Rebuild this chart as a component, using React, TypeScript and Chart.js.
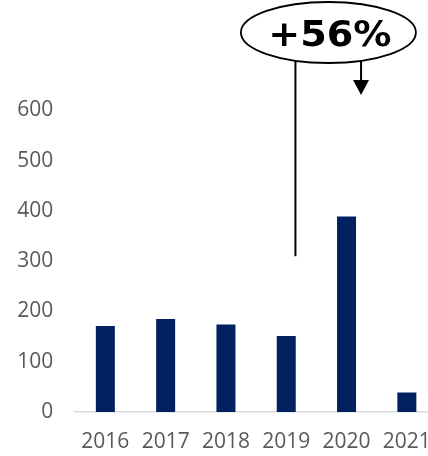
import React, { useEffect, useRef } from "react";
import { Chart, registerables } from "chart.js";

Chart.register(...registerables);

const categories = ["2016", "2017", "2018", "2019", "2020", "2021"];
const values = [171, 185, 174, 151, 389, 39];
const yTicks = [0, 100, 200, 300, 400, 500, 600];
const annotationText = "+56%";
const annotationLineValue = 310;

const annotationPlugin = {
  id: "growthAnnotation",
  afterDraw(chart: any) {
    const ctx = chart.ctx;
    const xs = chart.scales.x;
    const ys = chart.scales.y;
    const x3 = xs.getPixelForValue(3);
    const x4 = xs.getPixelForValue(4);
    const cx = (x3 + x4) / 2 + 12;
    const cy = 32.5;
    const rx = 87.5;
    const ry = 30.5;
    ctx.save();
    const lx = x3 + 9.2;
    const ly = ys.getPixelForValue(annotationLineValue);
    ctx.strokeStyle = "#000";
    ctx.lineWidth = 2;
    ctx.beginPath();
    ctx.moveTo(lx, cy + 20);
    ctx.lineTo(lx, ly);
    ctx.stroke();
    const ax = x4 + 14.5;
    ctx.beginPath();
    ctx.moveTo(ax, cy + 20);
    ctx.lineTo(ax, 81);
    ctx.stroke();
    ctx.fillStyle = "#000";
    ctx.beginPath();
    ctx.moveTo(ax - 8, 80);
    ctx.lineTo(ax + 8, 80);
    ctx.lineTo(ax, 95);
    ctx.closePath();
    ctx.fill();
    ctx.beginPath();
    ctx.ellipse(cx, cy, rx, ry, 0, 0, Math.PI * 2);
    ctx.fillStyle = "#fff";
    ctx.fill();
    ctx.lineWidth = 1.8;
    ctx.stroke();
    ctx.fillStyle = "#000";
    ctx.font = "bold 36px 'DejaVu Sans'";
    ctx.textAlign = "center";
    ctx.textBaseline = "alphabetic";
    ctx.save();
    ctx.translate(cx + 1.5, 45.5);
    ctx.scale(1.06, 1);
    ctx.fillText(annotationText, 0, 0);
    ctx.restore();
    ctx.restore();
  },
};

export default function App() {
  const ref = useRef<HTMLCanvasElement | null>(null);
  useEffect(() => {
    document.documentElement.style.overflow = "hidden";
    document.body.style.margin = "0";
    document.body.style.overflow = "hidden";
    const canvas = ref.current!;
    const chart = new Chart(canvas, {
      type: "bar",
      data: {
        labels: categories,
        datasets: [
          {
            data: values,
            backgroundColor: "#002060",
            borderWidth: 0,
            barPercentage: 0.315,
            categoryPercentage: 1,
          },
        ],
      },
      options: {
        animation: false,
        responsive: false,
        devicePixelRatio: 1,
        layout: { padding: { top: 110.5, left: 0, right: 0, bottom: 0 } },
        plugins: { legend: { display: false }, tooltip: { enabled: false } },
        scales: {
          x: {
            grid: { display: false, drawTicks: false },
            border: { display: true, color: "#d9d9d9", width: 1.5 },
            ticks: {
              color: "#595959",
              font: { family: "'Open Sans'", size: 21 },
              padding: 17,
              maxRotation: 0,
              autoSkip: false,
            },
            afterFit(scale: any) {
              scale.height = 44;
              scale.paddingLeft = 0;
              scale.paddingRight = 0;
            },
          },
          y: {
            min: 0,
            max: 600,
            grid: { display: false, drawTicks: false },
            border: { display: false },
            afterBuildTicks(scale: any) {
              scale.ticks = yTicks.map((v) => ({ value: v }));
            },
            ticks: {
              color: "#595959",
              font: { family: "'Open Sans'", size: 21 },
              padding: 22,
            },
            afterFit(scale: any) {
              scale.width = 75.2;
              scale.paddingTop = 0;
              scale.paddingBottom = 0;
            },
          },
        },
      },
      plugins: [annotationPlugin],
    });
    return () => chart.destroy();
  }, []);
  return (
    <div
      style={{
        position: "fixed",
        left: 0,
        top: 0,
        width: 428,
        height: 456,
        overflow: "hidden",
      }}
    >
      <canvas ref={ref} width={437} height={456} style={{ display: "block" }} />
    </div>
  );
}
